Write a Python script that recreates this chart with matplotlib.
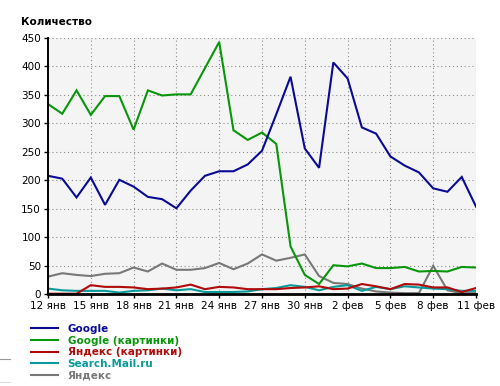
import matplotlib.pyplot as plt
from matplotlib.lines import Line2D

# 31 days: 12 янв .. 11 фев
days = list(range(31))
tick_pos = list(range(0, 31, 3))
tick_labels = ["12 янв", "15 янв", "18 янв", "21 янв", "24 янв", "27 янв",
               "30 янв", "2 фев", "5 фев", "8 фев", "11 фев"]

google = [208, 203, 170, 205, 157, 201, 189, 171, 167, 151, 182, 208, 216, 216,
          228, 252, 316, 382, 256, 222, 407, 379, 293, 282, 242, 226, 214, 186,
          180, 206, 154]
google_img = [334, 317, 358, 315, 348, 348, 289, 358, 349, 351, 351, 397, 443,
              288, 271, 284, 264, 84, 34, 18, 51, 49, 54, 46, 46, 48, 40, 41,
              40, 48, 47]
yandex_img = [1, 1, 1, 16, 13, 13, 12, 9, 10, 12, 17, 9, 13, 12, 9, 9, 9, 11,
              12, 14, 9, 10, 18, 14, 9, 18, 17, 12, 12, 4, 11]
mail = [10, 7, 6, 6, 6, 3, 6, 7, 10, 7, 9, 4, 4, 4, 5, 9, 11, 16, 13, 7, 13,
        16, 6, 13, 9, 14, 12, 10, 9, 6, 6]
yandex = [31, 37, 34, 32, 36, 37, 47, 40, 54, 43, 43, 46, 55, 44, 54, 70, 59,
          64, 70, 32, 20, 18, 10, 5, 3, 2, 2, 50, 7, 2, 2]

series = [
    ("Google", google, "#0a0a96"),
    ("Google (картинки)", google_img, "#0a960a"),
    ("Яндекс (картинки)", yandex_img, "#b00a0a"),
    ("Search.Mail.ru", mail, "#0a9a9a"),
    ("Яндекс", yandex, "#787878"),
]

plt.rcParams['font.family'] = ['DejaVu Sans']

fig = plt.figure(figsize=(5.0, 3.86), dpi=100)
ax = fig.add_axes([0.096, 0.2376, 0.856, 0.664])
ax.set_facecolor("#f4f4f4")

# draw in reverse so Google stays on top
for name, vals, col in reversed(series):
    ax.plot(days, vals, color=col, lw=1.5, solid_joinstyle="miter")

ax.set_xlim(0, 30)
ax.set_ylim(0, 450)
ax.set_yticks(range(0, 451, 50))
ax.set_xticks(tick_pos)
ax.set_xticklabels(tick_labels)
ax.tick_params(labelsize=7.5, length=3, width=1, pad=2)
ax.grid(True, color="#8c8c8c", linestyle=(0, (1, 2.5)), lw=0.8)

for s in ["top", "right"]:
    ax.spines[s].set_visible(False)
ax.spines["left"].set_linewidth(1.4)
ax.spines["bottom"].set_linewidth(2)

fig.text(0.042, 0.943, "Количество", fontsize=7.5, fontweight="bold", va="center")

# legend
handles = [Line2D([0], [0], color=c, lw=1.5) for _, _, c in series]
leg = fig.legend(handles, [n for n, _, _ in series], loc="upper left",
                 bbox_to_anchor=(0.052, 0.174), frameon=False,
                 handlelength=2.6, handletextpad=0.9, labelspacing=0.16,
                 borderpad=0, prop={"size": 7.5, "weight": "bold"},
                 labelcolor="linecolor")

# small stray marks at left edge
fig.add_artist(Line2D([0, 0.02], [0.07, 0.07], color="#999999", lw=0.8))
fig.add_artist(Line2D([0, 0.02], [0.01, 0.01], color="#dddddd", lw=0.8))

fig.savefig("out.png", dpi=100)
